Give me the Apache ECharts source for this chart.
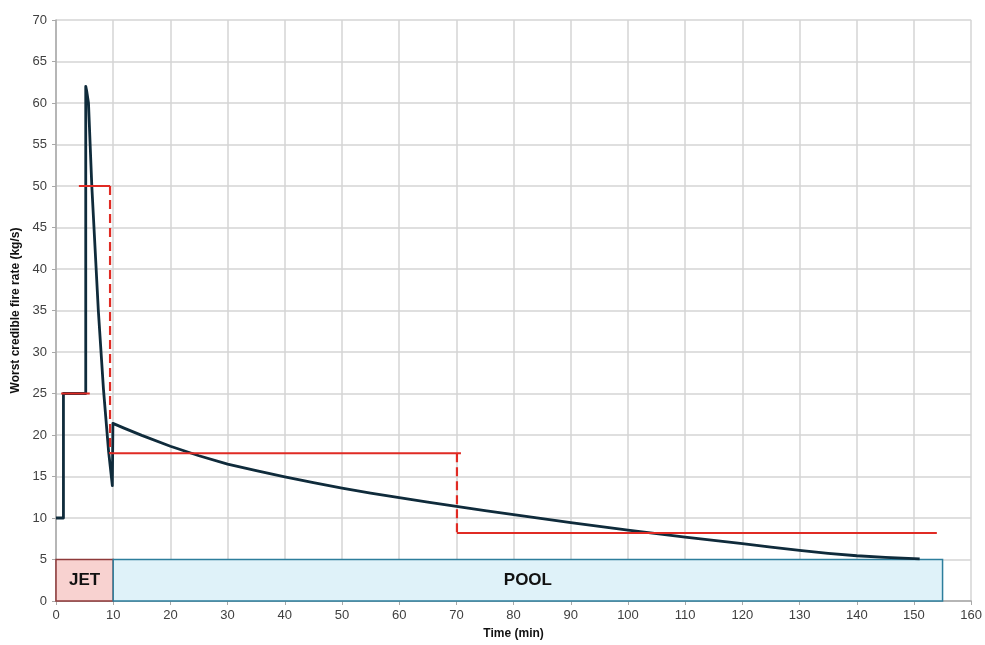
<!DOCTYPE html>
<html>
<head>
<meta charset="utf-8">
<script src="https://cdn.jsdelivr.net/npm/echarts@6/dist/echarts.min.js"></script>
<style>html,body{margin:0;padding:0;background:#fff}#c{width:985px;height:645px}</style>
</head>
<body>
<div id="c"></div>
<script>
// Main curve: time (min) and worst credible fire rate (kg/s)
var timeMin = [0, 1.3, 1.3, 5.2, 5.2, 5.35, 5.68, 6.26, 7.4, 8.3, 9.2, 9.85, 9.95, 10.2, 12, 15, 20, 25, 30, 35, 40, 45, 50, 55, 60, 65, 70, 75, 80, 85, 90, 95, 100, 105, 110, 115, 120, 125, 130, 135, 140, 145, 150, 151];
var fireRate = [10, 10, 25, 25, 62, 61.5, 60, 50, 35, 25.5, 18, 13.9, 21.4, 21.3, 20.8, 19.95, 18.65, 17.5, 16.5, 15.7, 14.95, 14.25, 13.6, 13.0, 12.45, 11.9, 11.4, 10.9, 10.4, 9.92, 9.45, 9.0, 8.55, 8.12, 7.7, 7.3, 6.9, 6.5, 6.1, 5.75, 5.45, 5.25, 5.1, 5.07];

// Design fire steps (red): solid horizontal segments
var stepStart = [0.9, 4.0, 9.3, 70.1];
var stepEnd   = [5.9, 9.45, 70.8, 154];
var stepLevel = [25, 50, 17.8, 8.2];
// dashed vertical transitions
var dropX    = [9.45, 70.1];
var dropFrom = [50, 17.8];
var dropTo   = [17.8, 8.2];

// Phase boxes
var phaseNames = ['JET', 'POOL'];
var phaseStart = [0, 10];
var phaseEnd   = [10, 155];
var phaseTop   = [5, 5];

var xTicks = {min: 0, max: 160, interval: 10};
var yTicks = {min: 0, max: 70, interval: 5};

var curveData = timeMin.map(function (t, i) { return [t, fireRate[i]]; });
var stepData = [];
stepStart.forEach(function (s, i) {
  stepData.push([s, stepLevel[i]]);
  stepData.push([stepEnd[i], stepLevel[i]]);
  if (i < stepStart.length - 1) stepData.push(null);
});
var dropData = [];
dropX.forEach(function (x, i) {
  dropData.push([x, dropFrom[i]]);
  dropData.push([x, dropTo[i]]);
  if (i < dropX.length - 1) dropData.push(null);
});
var phaseData = phaseNames.map(function (n, i) { return [phaseStart[i], phaseEnd[i], phaseTop[i], n]; });
var phaseStyle = {
  JET: {fill: '#f8d2d0', stroke: '#8e3a3a'},
  POOL: {fill: '#dff2f9', stroke: '#2d7e9c'}
};

var chart = echarts.init(document.getElementById('c'));
var font = '"Liberation Sans", Arial, sans-serif';
chart.setOption({
  animation: false,
  backgroundColor: '#ffffff',
  grid: {left: 56, right: 10, top: 20, bottom: 43, containLabel: false},
  xAxis: {
    type: 'value', min: xTicks.min, max: xTicks.max, interval: xTicks.interval,
    name: 'Time (min)', nameLocation: 'middle', nameGap: 27,
    nameTextStyle: {fontFamily: font, fontWeight: 'bold', fontSize: 12, color: '#111'},
    axisLine: {show: true, lineStyle: {color: '#a8a8a8', width: 1.5}},
    axisTick: {show: true, length: 4, lineStyle: {color: '#a8a8a8'}},
    axisLabel: {fontFamily: font, fontSize: 13, color: '#404040', margin: 8},
    splitLine: {show: true, lineStyle: {color: '#d4d4d4', width: 1.5}}
  },
  yAxis: {
    type: 'value', min: yTicks.min, max: yTicks.max, interval: yTicks.interval,
    name: 'Worst credible fire rate (kg/s)', nameLocation: 'middle', nameGap: 31,
    nameTextStyle: {fontFamily: font, fontWeight: 'bold', fontSize: 12, color: '#111'},
    axisLine: {show: true, lineStyle: {color: '#a8a8a8', width: 1.5}},
    axisTick: {show: true, length: 4, lineStyle: {color: '#a8a8a8'}},
    axisLabel: {fontFamily: font, fontSize: 13, color: '#404040', margin: 9},
    splitLine: {show: true, lineStyle: {color: '#d4d4d4', width: 1.5}}
  },
  series: [
    {
      type: 'custom',
      encode: {x: [0, 1], y: 2},
      data: phaseData,
      z: 1,
      renderItem: function (params, api) {
        var p0 = api.coord([api.value(0), 0]);
        var p1 = api.coord([api.value(1), api.value(2)]);
        var name = phaseNames[params.dataIndex];
        var st = phaseStyle[name];
        return {
          type: 'rect',
          shape: {x: p0[0], y: p1[1], width: p1[0] - p0[0], height: p0[1] - p1[1]},
          style: {fill: st.fill, stroke: st.stroke, lineWidth: 1.5},
          textContent: {style: {text: name, font: 'bold 17px "Liberation Sans", Arial, sans-serif', fill: '#111'}},
          textConfig: {position: 'inside'}
        };
      }
    },
    {
      type: 'line', data: curveData, showSymbol: false, symbol: 'none', z: 3,
      lineStyle: {color: '#0f2b3b', width: 2.8, join: 'round'}
    },
    {
      type: 'line', data: stepData, showSymbol: false, symbol: 'none', connectNulls: false, z: 4,
      lineStyle: {color: '#e02b24', width: 2}
    },
    {
      type: 'line', data: dropData, showSymbol: false, symbol: 'none', connectNulls: false, z: 4,
      lineStyle: {color: '#e02b24', width: 2.2, type: [9, 5]}
    }
  ]
});
</script>
</body>
</html>
